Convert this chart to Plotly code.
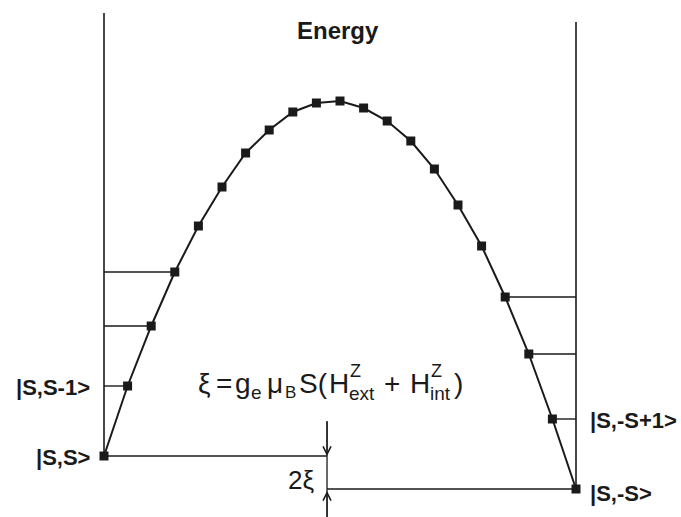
import plotly.graph_objects as go

# Spin projections m = S ... -S (S = 10) and the level energies (arb. units)
S = 10
m_values = list(range(S, -S - 1, -1))
energy = [0.33, 1.03, 1.63, 2.17, 2.63, 3.02, 3.36, 3.59, 3.77, 3.86, 3.88,
          3.81, 3.68, 3.48, 3.20, 2.84, 2.43, 1.92, 1.35, 0.70, 0.00]

# Levels that get a horizontal guide to the nearest side wall
left_levels = [1, 2, 3]        # indices into m_values / energy
right_levels = [17, 18, 19]

title_text = "Energy"
state_labels = {0: "|S,S>", 1: "|S,S-1>", 19: "|S,-S+1>", 20: "|S,-S>"}
splitting_label = "2ξ"

# Zeeman splitting formula, typeset piece by piece:
# (text, horizontal offset in px, font size, vertical offset in px)
formula_pieces = [
    ("ξ", 0, 28, 0),
    ("=", 18, 28, 0),
    ("g", 37, 28, 0),
    ("e", 53, 19, -9),
    ("μ", 69, 28, 0),
    ("B", 87, 17, -9),
    ("S(", 101, 28, 0),
    ("H", 131, 28, 0),
    ("Z", 152, 18, 12),
    ("ext", 151, 19, -10),
    ("+", 186, 28, 0),
    ("H", 212, 28, 0),
    ("Z", 233, 18, 12),
    ("int", 232, 19, -10),
    (")", 256, 28, 0),
]
formula_anchor = (6.1, 1.06)   # (m, energy) of the formula's left edge

wall_top_left = 4.76
wall_top_right = 4.67
arrow_m = 0.55

ink = "#1a1a1a"
font_family = "Liberation Sans, Arial, sans-serif"

fig = go.Figure()

fig.add_trace(go.Scatter(
    x=m_values, y=energy, mode="lines+markers",
    line=dict(color=ink, width=2),
    marker=dict(symbol="square", size=9, color=ink),
    hoverinfo="skip", showlegend=False,
))

shapes = []
# side walls
shapes.append(dict(type="line", x0=m_values[0], x1=m_values[0], y0=energy[0], y1=wall_top_left,
                   line=dict(color=ink, width=1.6)))
shapes.append(dict(type="line", x0=m_values[-1], x1=m_values[-1], y0=energy[-1], y1=wall_top_right,
                   line=dict(color=ink, width=1.6)))
# level guides
for i in left_levels:
    shapes.append(dict(type="line", x0=m_values[0], x1=m_values[i], y0=energy[i], y1=energy[i],
                       line=dict(color=ink, width=1.4)))
for i in right_levels:
    shapes.append(dict(type="line", x0=m_values[i], x1=m_values[-1], y0=energy[i], y1=energy[i],
                       line=dict(color=ink, width=1.4)))
# ground-state lines meeting at the splitting arrow
shapes.append(dict(type="line", x0=m_values[0], x1=arrow_m, y0=energy[0], y1=energy[0],
                   line=dict(color=ink, width=1.6)))
shapes.append(dict(type="line", x0=arrow_m, x1=m_values[-1], y0=energy[-1], y1=energy[-1],
                   line=dict(color=ink, width=1.6)))
# connecting shaft of the 2ξ marker
shapes.append(dict(type="line", x0=arrow_m, x1=arrow_m, y0=energy[-1] - 0.3, y1=energy[0] + 0.35,
                   line=dict(color=ink, width=1.3)))

annotations = []
annotations.append(dict(x=0.1, y=4.59, text="<b>" + title_text + "</b>", showarrow=False,
                        font=dict(family=font_family, size=24, color=ink)))
for i, lab in state_labels.items():
    left = i < len(m_values) // 2
    annotations.append(dict(
        x=m_values[0] if left else m_values[-1], y=energy[i], text="<b>" + lab + "</b>",
        showarrow=False,
        xanchor="right" if left else "left",
        xshift=-12 if left else 12,
        yshift=-1 if i != 20 else -4,
        font=dict(family=font_family, size=22, color=ink)))

fx, fy = formula_anchor
for txt, dx, size, dy in formula_pieces:
    annotations.append(dict(x=fx, y=fy, text=txt, showarrow=False,
                            xanchor="left", xshift=dx, yshift=dy,
                            font=dict(family=font_family, size=size, color=ink)))

annotations.append(dict(x=arrow_m, y=energy[0] - 0.24, text=splitting_label, showarrow=False,
                        xanchor="right", xshift=-11,
                        font=dict(family=font_family, size=26, color=ink)))
# arrows pointing onto the two ground levels
annotations.append(dict(x=arrow_m, y=energy[0], ax=arrow_m, ay=energy[0] + 0.36,
                        xref="x", yref="y", axref="x", ayref="y", text="",
                        showarrow=True, arrowhead=5, arrowwidth=1.3, arrowcolor=ink, arrowsize=1.2))
annotations.append(dict(x=arrow_m, y=energy[-1] - 0.02, ax=arrow_m, ay=energy[-1] - 0.3,
                        xref="x", yref="y", axref="x", ayref="y", text="",
                        showarrow=True, arrowhead=5, arrowwidth=1.3, arrowcolor=ink, arrowsize=1.2))

fig.update_layout(
    width=681, height=517,
    margin=dict(l=0, r=0, t=0, b=0),
    paper_bgcolor="white", plot_bgcolor="white",
    xaxis=dict(range=[14.407, -14.449], visible=False, fixedrange=True),
    yaxis=dict(range=[-0.28, 4.89], visible=False, fixedrange=True),
    shapes=shapes, annotations=annotations,
)

fig.write_html("out.html")
